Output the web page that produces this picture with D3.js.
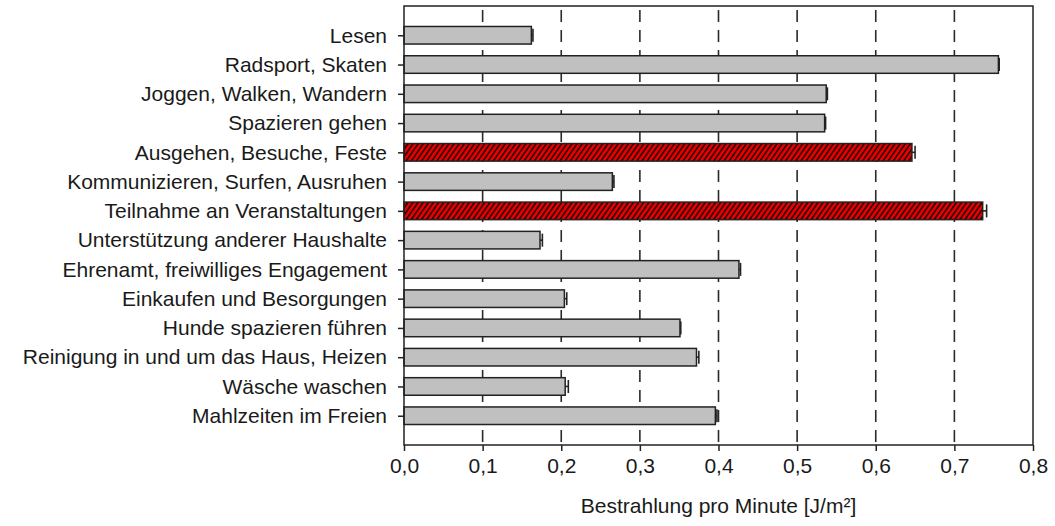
<!DOCTYPE html>
<html>
<head>
<meta charset="utf-8">
<script src="https://cdn.jsdelivr.net/npm/d3@7"></script>
<style>
  html, body { margin: 0; padding: 0; background: #fff; }
  svg { display: block; font-family: "Liberation Sans", Arial, sans-serif; }
</style>
</head>
<body>
<svg id="chart" width="1055" height="526"></svg>
<script>
const categories = [
  "Lesen",
  "Radsport, Skaten",
  "Joggen, Walken, Wandern",
  "Spazieren gehen",
  "Ausgehen, Besuche, Feste",
  "Kommunizieren, Surfen, Ausruhen",
  "Teilnahme an Veranstaltungen",
  "Unterstützung anderer Haushalte",
  "Ehrenamt, freiwilliges Engagement",
  "Einkaufen und Besorgungen",
  "Hunde spazieren führen",
  "Reinigung in und um das Haus, Heizen",
  "Wäsche waschen",
  "Mahlzeiten im Freien"
];
const values = [0.162, 0.756, 0.537, 0.535, 0.646, 0.265, 0.736, 0.173, 0.426, 0.204, 0.351, 0.372, 0.205, 0.396];
const errors = [0.002, 0.001, 0.0015, 0.0012, 0.004, 0.002, 0.005, 0.003, 0.002, 0.003, 0.001, 0.003, 0.004, 0.002];
const highlighted = ["Ausgehen, Besuche, Feste", "Teilnahme an Veranstaltungen"];
const xTicks = [0, 0.1, 0.2, 0.3, 0.4, 0.5, 0.6, 0.7, 0.8];
const gridTicks = [0.1, 0.2, 0.3, 0.4, 0.5, 0.6, 0.7];
const xTitle = "Bestrahlung pro Minute [J/m²]";

const data = categories.map((c, i) => ({ cat: c, value: values[i], err: errors[i], hi: highlighted.includes(c) }));

const svg = d3.select("#chart");
const L = 404, R = 1033, T = 6, B = 445;
const fontSize = 21;
const ink = "#1a1a1a";

const x = d3.scaleLinear().domain([0, 0.8]).range([L, R]);
const y = d3.scalePoint().domain(categories).range([T, B]).padding(1);
const barH = y.step() * 0.6;

// hatch pattern
const defs = svg.append("defs");
const pat = defs.append("pattern")
  .attr("id", "hatch")
  .attr("patternUnits", "userSpaceOnUse")
  .attr("width", 4.2).attr("height", 4.2)
  .attr("patternTransform", "rotate(35)");
pat.append("rect").attr("width", 4.2).attr("height", 4.2).attr("fill", "#e60000");
pat.append("line").attr("x1", 0.8).attr("y1", 0).attr("x2", 0.8).attr("y2", 4.2)
  .attr("stroke", "#200000").attr("stroke-width", 1.5);

// grid
svg.append("g").selectAll("line").data(gridTicks).join("line")
  .attr("x1", d => x(d)).attr("x2", d => x(d))
  .attr("y1", T).attr("y2", B)
  .attr("stroke", "#2a2a2a").attr("stroke-width", 1.6)
  .attr("stroke-dasharray", "12,8").attr("stroke-dashoffset", -4);

// bars
svg.append("g").selectAll("rect").data(data).join("rect")
  .attr("x", x(0))
  .attr("y", d => y(d.cat) - barH / 2)
  .attr("width", d => x(d.value) - x(0))
  .attr("height", barH)
  .attr("fill", d => d.hi ? "url(#hatch)" : "#c0c0c0")
  .attr("stroke", "#222").attr("stroke-width", 1.5);

// error bars
const eb = svg.append("g").attr("stroke", "#222").attr("stroke-width", 1.6);
eb.selectAll("line.w").data(data).join("line").attr("class", "w")
  .attr("x1", d => x(d.value)).attr("x2", d => x(d.value + d.err))
  .attr("y1", d => y(d.cat)).attr("y2", d => y(d.cat));
eb.selectAll("line.c").data(data).join("line").attr("class", "c")
  .attr("x1", d => x(d.value + d.err)).attr("x2", d => x(d.value + d.err))
  .attr("y1", d => y(d.cat) - 6.5).attr("y2", d => y(d.cat) + 6.5);

// frame
svg.append("rect").attr("x", L).attr("y", T).attr("width", R - L).attr("height", B - T)
  .attr("fill", "none").attr("stroke", "#222").attr("stroke-width", 1.5);

// x axis
const xAxis = svg.append("g").attr("transform", `translate(0,${B})`)
  .call(d3.axisBottom(x).tickValues(xTicks).tickSize(6).tickPadding(7)
    .tickFormat(d => d.toFixed(1).replace(".", ",")));
xAxis.select(".domain").remove();
xAxis.selectAll(".tick line").attr("stroke", "#222").attr("stroke-width", 1.5);
xAxis.selectAll(".tick text").attr("font-size", fontSize).attr("fill", ink)
  .attr("font-family", "Liberation Sans, Arial, sans-serif");

// y axis
const yAxis = svg.append("g").attr("transform", `translate(${L},0)`)
  .call(d3.axisLeft(y).tickSize(6).tickPadding(11));
yAxis.select(".domain").remove();
yAxis.selectAll(".tick line").attr("stroke", "#222").attr("stroke-width", 1.5);
yAxis.selectAll(".tick text").attr("font-size", fontSize).attr("fill", ink)
  .attr("font-family", "Liberation Sans, Arial, sans-serif");

// axis title
svg.append("text")
  .attr("x", (L + R) / 2).attr("y", 513)
  .attr("text-anchor", "middle")
  .attr("font-size", fontSize).attr("fill", ink)
  .text(xTitle);
</script>
</body>
</html>
